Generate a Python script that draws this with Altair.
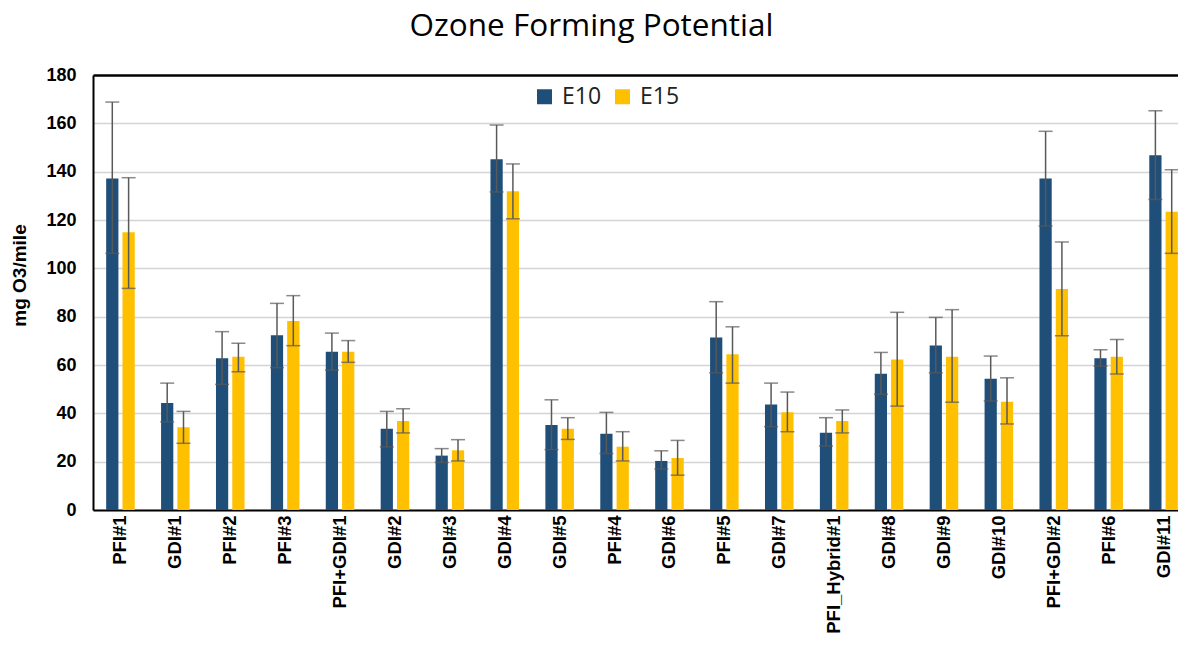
import altair as alt
import pandas as pd

categories = ["PFI#1", "GDI#1", "PFI#2", "PFI#3", "PFI+GDI#1", "GDI#2", "GDI#3", "GDI#4",
              "GDI#5", "PFI#4", "GDI#6", "PFI#5", "GDI#7", "PFI_Hybrid#1", "GDI#8", "GDI#9",
              "GDI#10", "PFI+GDI#2", "PFI#6", "GDI#11"]

e10_val = [137.2, 44.3, 62.8, 72.3, 65.5, 33.6, 22.5, 145.1, 35.2, 31.6, 20.3, 71.4, 43.7, 32.0, 56.4, 68.1, 54.3, 137.2, 62.8, 146.8]
e10_hi = [168.8, 52.5, 73.8, 85.5, 73.2, 40.8, 25.4, 159.3, 45.6, 40.4, 24.5, 86.2, 52.5, 38.2, 65.2, 79.7, 63.7, 156.7, 66.3, 165.2]
e10_lo = [106.2, 36.5, 52.0, 58.9, 57.9, 26.1, 19.7, 131.6, 25.0, 23.4, 17.0, 56.8, 34.5, 26.5, 47.9, 56.8, 45.1, 117.5, 59.5, 128.5]

e15_val = [114.9, 34.2, 63.4, 78.2, 65.5, 36.8, 24.7, 131.9, 33.6, 26.2, 21.5, 64.4, 40.5, 36.8, 62.3, 63.4, 44.8, 91.4, 63.4, 123.4]
e15_hi = [137.5, 40.8, 69.0, 88.7, 70.1, 41.9, 29.1, 143.2, 38.2, 32.4, 28.8, 75.8, 48.8, 41.4, 81.8, 82.9, 54.7, 110.9, 70.6, 140.8]
e15_lo = [91.7, 27.6, 57.2, 68.0, 61.1, 31.9, 20.3, 120.5, 29.2, 20.3, 14.4, 52.5, 32.4, 31.9, 43.0, 44.6, 35.6, 72.1, 56.3, 106.2]

series = ["E10", "E15"]
colors = ["#1F4E79", "#FFC000"]
y_ticks = [0, 20, 40, 60, 80, 100, 120, 140, 160, 180]

rows = []
for i, c in enumerate(categories):
    rows.append({"cat": c, "fuel": "E10", "value": e10_val[i], "lo": e10_lo[i], "hi": e10_hi[i]})
    rows.append({"cat": c, "fuel": "E15", "value": e15_val[i], "lo": e15_lo[i], "hi": e15_hi[i]})
df = pd.DataFrame(rows)

LABEL_FONT = "Liberation Sans"

x_enc = alt.X("cat:N", sort=categories,
              scale=alt.Scale(paddingInner=0.48, paddingOuter=0.24, range=[0, 1098]),
              axis=alt.Axis(title=None, labelAngle=270, labelFont=LABEL_FONT, labelFontSize=18.5,
                            labelFontWeight="bold", labelColor="black", labelPadding=5,
                            ticks=False, domainColor="black", domainWidth=2,
                            labelOverlap=False, labelLimit=0))
xoff = alt.XOffset("fuel:N", sort=series, scale=alt.Scale(paddingInner=0.25, paddingOuter=0))

y_scale = alt.Scale(domain=[0, 180], nice=False)

bars = alt.Chart(df).mark_bar().encode(
    x=x_enc,
    xOffset=xoff,
    y=alt.Y("value:Q", scale=y_scale,
            axis=alt.Axis(title="mg O3/mile", values=y_ticks, labelFont=LABEL_FONT,
                          labelFontSize=18, labelFontWeight="bold", labelColor="black",
                          labelPadding=17, ticks=False, domainColor="black", domainWidth=2,
                          gridColor={"condition": {"test": "datum.value === 180", "value": "black"},
                                     "value": "#d4d4d4"},
                          gridWidth={"condition": {"test": "datum.value === 180", "value": 2.5},
                                     "value": 1.5},
                          titleFont=LABEL_FONT, titleFontSize=19, titleFontWeight="bold",
                          titleColor="black", titleAngle=270, titleX=-74, titleY=200,
                          titleAlign="center", titleBaseline="middle")),
    color=alt.Color("fuel:N", sort=series,
                    scale=alt.Scale(domain=series, range=colors),
                    legend=alt.Legend(title=None, orient="none", legendX=440, legendY=10,
                                      direction="horizontal", symbolType="square",
                                      symbolSize=225, symbolStrokeWidth=0,
                                      labelFont="Open Sans", labelFontSize=23,
                                      labelColor="#222222", labelOffset=6,
                                      columnPadding=9, padding=0)),
)

err = alt.Chart(df).mark_rule(color="#595959", strokeWidth=1.5).encode(
    x=alt.X("cat:N", sort=categories),
    xOffset=alt.XOffset("fuel:N", sort=series),
    y=alt.Y("lo:Q"),
    y2="hi:Q",
)
cap_hi = alt.Chart(df).mark_tick(color="#595959", thickness=1.5, size=14).encode(
    x=alt.X("cat:N", sort=categories),
    xOffset=alt.XOffset("fuel:N", sort=series),
    y=alt.Y("hi:Q"),
)
cap_lo = alt.Chart(df).mark_tick(color="#595959", thickness=1.5, size=14).encode(
    x=alt.X("cat:N", sort=categories),
    xOffset=alt.XOffset("fuel:N", sort=series),
    y=alt.Y("lo:Q"),
)

chart = alt.layer(bars, err, cap_hi, cap_lo).properties(
    width=1085,
    height=435,
    title=alt.TitleParams("Ozone Forming Potential", font="Open Sans", fontSize=31.5,
                          fontWeight="normal", color="black", anchor="middle", dx=-44,
                          offset=24),
    autosize=alt.AutoSizeParams(type="none"),
    padding={"left": 85, "top": 67, "right": 0, "bottom": 126},
).configure_view(stroke=None).configure(background="white")

chart.save("out.html", embed_options={"renderer": "svg", "actions": False})
